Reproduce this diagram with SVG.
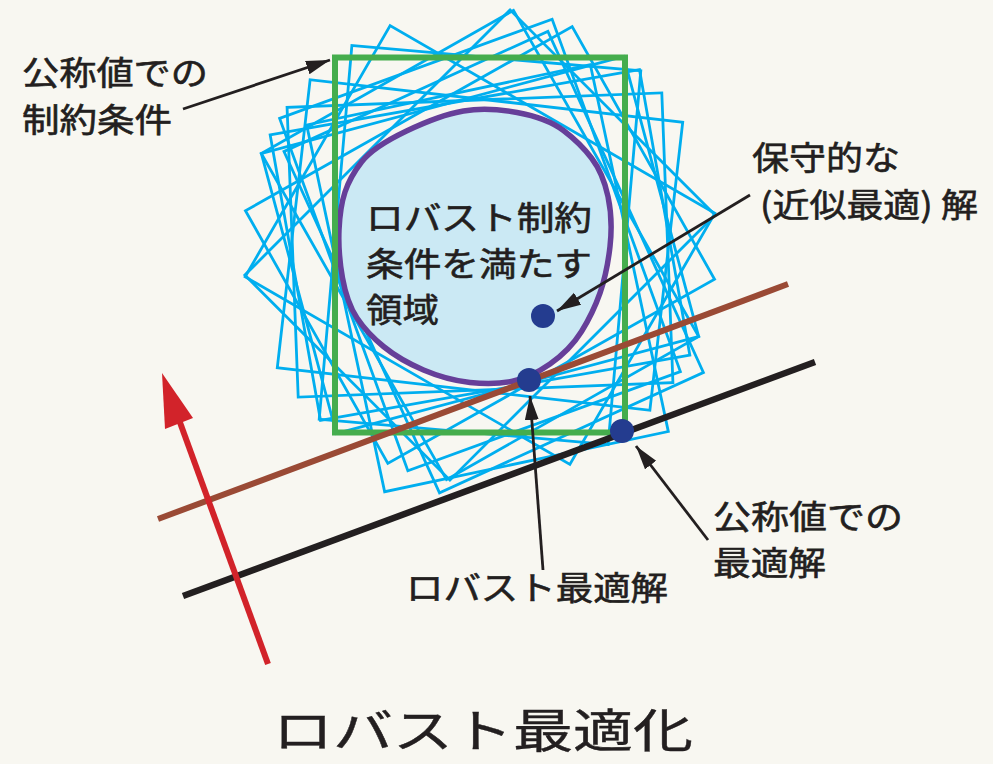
<svg xmlns="http://www.w3.org/2000/svg" width="993" height="764" viewBox="0 0 993 764">
<defs>
<style>
.bg{fill:#f8f7f1}
.cy{fill:none;stroke:#00aeef;stroke-width:2.8}
.gr{fill:none;stroke:#45ad4d;stroke-width:6}
.blob{fill:#cbe9f4;stroke:#663f99;stroke-width:5.5}
.dot{fill:#243c8f}
.ptr{stroke:#231f20;stroke-width:2.8;fill:none;marker-end:url(#ah)}
.t{font-family:"Noto Sans CJK JP","Noto Sans CJK SC",sans-serif;fill:#231f20;stroke:#231f20;stroke-width:0.6;font-size:33px;font-weight:400}
.title{font-size:46px;stroke-width:0.4}
</style>
<marker id="ah" markerUnits="userSpaceOnUse" markerWidth="26" markerHeight="16" refX="24" refY="7" orient="auto">
<path d="M0,0 L24,7 L0,14 z" fill="#231f20"/>
</marker>
</defs>
<rect class="bg" x="0" y="0" width="993" height="764"/>
<g id="uncertain-constraints">
<rect class="cy" x="335" y="57.5" width="290" height="375" transform="rotate(5 480 245)"/>
<rect class="cy" x="335" y="57.5" width="290" height="375" transform="rotate(45 480 245)"/>
<rect class="cy" x="335" y="57.5" width="290" height="375" transform="rotate(60.6 480 245)"/>
<rect class="cy" x="335" y="57.5" width="290" height="375" transform="rotate(75 480 245)"/>
<rect class="cy" x="335" y="57.5" width="290" height="375" transform="rotate(80 480 245)"/>
<rect class="cy" x="335" y="57.5" width="290" height="375" transform="rotate(87.8 480 245)"/>
<rect class="cy" x="335" y="57.5" width="290" height="375" transform="rotate(96.5 480 245)"/>
<rect class="cy" x="335" y="57.5" width="290" height="375" transform="rotate(120 480 245)"/>
<rect class="cy" x="335" y="57.5" width="290" height="375" transform="rotate(150.4 480 245)"/>
<rect class="cy" x="335" y="57.5" width="290" height="375" transform="rotate(155.5 485 255)"/>
<rect class="cy" x="335" y="57.5" width="290" height="375" transform="rotate(160 480 245)"/>
<rect class="cy" x="335" y="57.5" width="290" height="375" transform="rotate(168 482 262)"/>
</g>
<g id="robust-region">
<path class="blob" d="M517,112.5 Q547,118 563.5,130.5 Q580,143 591.5,158 Q603,173 608,196.5 Q613,220 610,246.5 Q607,273 600,293 Q593,313 581.5,331.5 Q570,350 550,364 Q530,378 511.5,381.5 Q493,385 470,382.5 Q447,380 423.5,370 Q400,360 383.5,346.5 Q367,333 357,318 Q347,303 342.5,278 Q338,253 339,230 Q340,207 345,192 Q350,177 361.5,162 Q373,147 406.5,131 Q440,115 463.5,111 Q487,107 517,112.5 Z"/>
<text class="t" x="366" y="230" textLength="226" lengthAdjust="spacingAndGlyphs">ロバスト制約</text>
<text class="t" x="366" y="276" textLength="226" lengthAdjust="spacingAndGlyphs">条件を満たす</text>
<text class="t" x="366" y="322" textLength="73" lengthAdjust="spacingAndGlyphs">領域</text>
</g>
<g id="nominal-constraint">
<rect class="gr" x="335" y="57.5" width="290" height="375"/>
</g>
<g id="connectors">
<line x1="158" y1="519" x2="788" y2="284" stroke="#9a4a35" stroke-width="6"/>
<line x1="183" y1="596" x2="815" y2="362" stroke="#231f20" stroke-width="6.5"/>
<line x1="268" y1="664" x2="174" y2="406" stroke="#d2232a" stroke-width="6"/>
<polygon points="162,373 165,429 193,418" fill="#d2232a"/>
<line class="ptr" x1="183" y1="109" x2="330" y2="60"/>
<line class="ptr" x1="750" y1="195" x2="557" y2="311"/>
<line class="ptr" x1="543" y1="570" x2="530" y2="396"/>
<line class="ptr" x1="708" y1="540" x2="636" y2="446"/>
</g>
<g id="conservative-solution"><circle class="dot" cx="543" cy="316" r="12"/></g>
<g id="robust-solution"><circle class="dot" cx="529" cy="380" r="12"/></g>
<g id="nominal-solution"><circle class="dot" cx="622" cy="431" r="12"/></g>
<g id="label-nominal-constraint">
<text class="t" x="22" y="85" textLength="186" lengthAdjust="spacingAndGlyphs">公称値での</text>
<text class="t" x="22" y="132" textLength="150" lengthAdjust="spacingAndGlyphs">制約条件</text>
</g>
<g id="label-conservative">
<text class="t" x="752" y="170" textLength="148" lengthAdjust="spacingAndGlyphs">保守的な</text>
<text class="t" x="760" y="217" textLength="218" lengthAdjust="spacingAndGlyphs">(近似最適) 解</text>
</g>
<g id="label-robust">
<text class="t" x="406" y="600" textLength="262" lengthAdjust="spacingAndGlyphs">ロバスト最適解</text>
</g>
<g id="label-nominal-solution">
<text class="t" x="713" y="529" textLength="190" lengthAdjust="spacingAndGlyphs">公称値での</text>
<text class="t" x="713" y="575" textLength="113" lengthAdjust="spacingAndGlyphs">最適解</text>
</g>
<g id="title">
<text class="t title" x="273" y="747" textLength="420" lengthAdjust="spacingAndGlyphs">ロバスト最適化</text>
</g>
</svg>
